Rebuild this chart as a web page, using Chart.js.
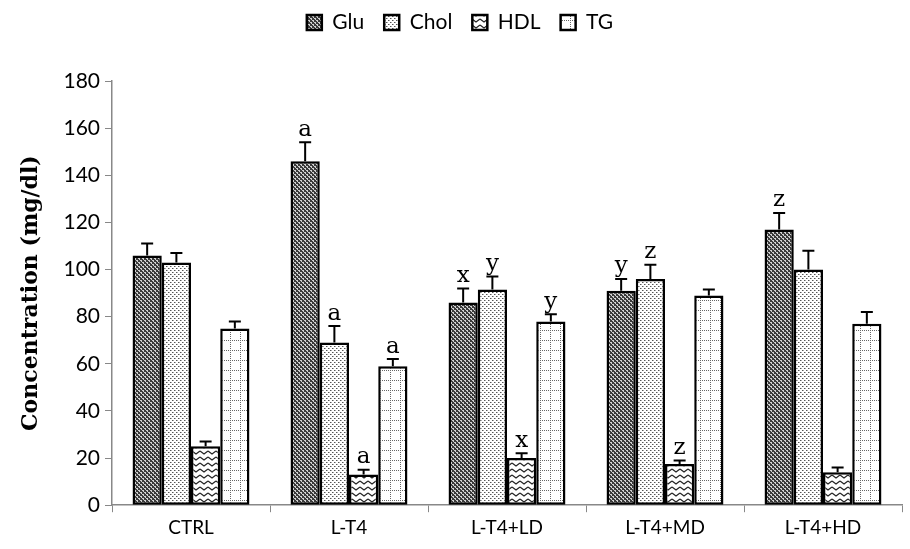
<!DOCTYPE html>
<html>
<head>
<meta charset="utf-8">
<script src="https://cdn.jsdelivr.net/npm/chart.js@4"></script>
<style>
  html, body { margin: 0; padding: 0; background: #fff; }
  #wrap { width: 910px; height: 549px; }
</style>
</head>
<body>
<div id="wrap"><canvas id="chart" width="910" height="549"></canvas></div>
<script>
const groups = ['CTRL', 'L-T4', 'L-T4+LD', 'L-T4+MD', 'L-T4+HD'];
const seriesNames = ['Glu', 'Chol', 'HDL', 'TG'];

const glu  = [106, 146, 86, 91, 117];
const chol = [103, 69, 91.5, 96, 100];
const hdl  = [25, 13, 20, 17.5, 14];
const tg   = [75, 59, 78, 89, 77];

// error (SE) above bar
const gluErr  = [5, 8, 6, 5, 7];
const cholErr = [4, 7, 5.5, 6, 8];
const hdlErr  = [2, 2, 2, 1.5, 2];
const tgErr   = [3, 3, 3, 2.5, 5];

// significance letters
const gluSig  = ['', 'a', 'x', 'y', 'z'];
const cholSig = ['', 'a', 'y', 'z', ''];
const hdlSig  = ['', 'a', 'x', 'z', ''];
const tgSig   = ['', 'a', 'y', '', ''];

const yTicks = [0, 20, 40, 60, 80, 100, 120, 140, 160, 180];

function makePattern(w, h, draw) {
  const c = document.createElement('canvas');
  c.width = w; c.height = h;
  const g = c.getContext('2d');
  draw(g);
  return document.getElementById('chart').getContext('2d').createPattern(c, 'repeat');
}

const patGlu = makePattern(4, 4, g => {
  g.fillStyle = '#3a3a3a'; g.fillRect(0, 0, 4, 4);
  g.fillStyle = '#d0d0d0';
  g.fillRect(0, 0, 2, 1); g.fillRect(2, 2, 2, 1);
  g.fillRect(1, 1, 1, 1); g.fillRect(3, 3, 1, 1);
});
const patChol = makePattern(4, 4, g => {
  g.fillStyle = '#fff'; g.fillRect(0, 0, 4, 4);
  g.fillStyle = '#555';
  g.fillRect(0, 0, 1, 1); g.fillRect(2, 2, 1, 1);
  g.fillStyle = '#aaa';
  g.fillRect(1, 0, 1, 1); g.fillRect(3, 2, 1, 1);
});
const patHdl = makePattern(8, 6, g => {
  g.fillStyle = '#fff'; g.fillRect(0, 0, 8, 6);
  g.strokeStyle = '#222'; g.lineWidth = 1.2;
  g.beginPath();
  g.moveTo(0, 1); g.lineTo(4, 4); g.lineTo(8, 1);
  g.stroke();
});
const patTg = makePattern(10, 10, g => {
  g.fillStyle = '#fff'; g.fillRect(0, 0, 10, 10);
  g.fillStyle = '#666';
  for (let i = 0; i < 10; i += 2) { g.fillRect(i, 0, 1, 1); g.fillRect(0, i, 1, 1); }
});

const errs = [gluErr, cholErr, hdlErr, tgErr];
const sigs = [gluSig, cholSig, hdlSig, tgSig];

const errorBars = {
  id: 'errorBars',
  afterDatasetsDraw(chart) {
    const ctx = chart.ctx;
    const y = chart.scales.y;
    ctx.save();
    chart.data.datasets.forEach((ds, di) => {
      const meta = chart.getDatasetMeta(di);
      meta.data.forEach((bar, i) => {
        const top = y.getPixelForValue(ds.data[i] + errs[di][i]);
        ctx.strokeStyle = '#000';
        ctx.lineWidth = 2;
        ctx.beginPath();
        ctx.moveTo(bar.x, bar.y);
        ctx.lineTo(bar.x, top);
        ctx.moveTo(bar.x - 6, top);
        ctx.lineTo(bar.x + 6, top);
        ctx.stroke();
        const s = sigs[di][i];
        if (s) {
          ctx.fillStyle = '#000';
          ctx.font = '23px "DejaVu Serif", serif';
          ctx.textAlign = 'center';
          ctx.textBaseline = 'bottom';
          ctx.fillText(s, bar.x, top - 1);
        }
      });
    });
    ctx.restore();
  }
};

// extra room under the legend
const legendGap = {
  id: 'legendGap',
  beforeInit(chart) {
    const fit = chart.legend.fit;
    chart.legend.fit = function () {
      fit.bind(chart.legend)();
      this.height += 38;
    };
  }
};

const fills = [patGlu, patChol, patHdl, patTg];
const values = [glu, chol, hdl, tg];

new Chart(document.getElementById('chart'), {
  type: 'bar',
  data: {
    labels: groups,
    datasets: seriesNames.map((name, i) => ({
      label: name,
      data: values[i],
      backgroundColor: fills[i],
      borderColor: '#000',
      borderWidth: 2.5,
      borderSkipped: false,
      categoryPercentage: 0.74,
      barPercentage: 1.0
    }))
  },
  options: {
    responsive: false,
    animation: false,
    layout: { padding: { left: 18, right: 8, top: -8, bottom: 6 } },
    plugins: {
      legend: {
        position: 'top',
        labels: {
          color: '#000',
          font: { family: 'Lato, sans-serif', size: 21 },
          boxWidth: 15,
          boxHeight: 15,
          padding: 20
        }
      },
      tooltip: { enabled: false }
    },
    scales: {
      x: {
        grid: { display: true, drawOnChartArea: false, offset: true, color: '#888', tickLength: 7 },
        border: { color: '#888', width: 1.5 },
        ticks: { color: '#000', font: { family: 'Lato, sans-serif', size: 19 }, padding: 4 }
      },
      y: {
        min: 0, max: 180,
        afterBuildTicks(scale) { scale.ticks = yTicks.map(v => ({ value: v })); },
        afterFit(scale) { scale.width = 94; },
        grid: { display: true, drawOnChartArea: false, color: '#888', tickLength: 7 },
        border: { color: '#888', width: 1.5 },
        ticks: { color: '#000', font: { family: 'Lato, sans-serif', size: 21 }, padding: 5 },
        title: {
          display: true,
          text: 'Concentration (mg/dl)',
          color: '#000',
          font: { family: '"DejaVu Serif", serif', size: 22, weight: 'bold' },
          padding: 0
        }
      }
    }
  },
  plugins: [errorBars, legendGap]
});
</script>
</body>
</html>
